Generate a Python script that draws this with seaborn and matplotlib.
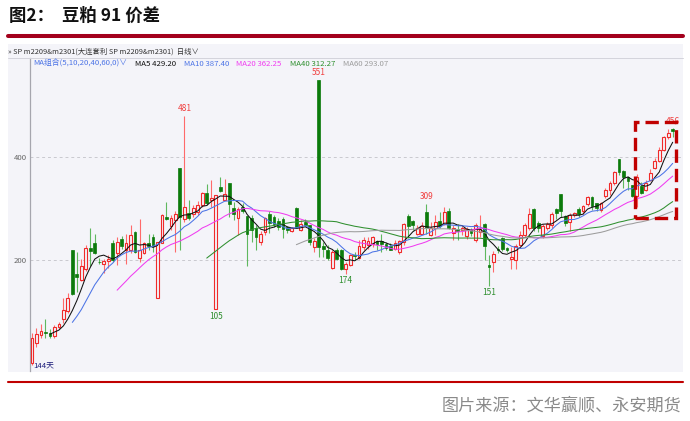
import numpy as np
import pandas as pd
import matplotlib
matplotlib.use("Agg")
import matplotlib.pyplot as plt
import seaborn as sns
from matplotlib.patches import Rectangle
from matplotlib.lines import Line2D

# Daily OHLC of the soymeal 9-1 spread (SP m2209&m2301), 144 sessions
opens = [0, 39, 55, 60, 58, 52, 71, 86, 102, 219,
         173, 162, 183, 224, 234, 197, 193, 199, 233, 214,
         241, 220, 220, 254, 204, 215, 234, 245, 126, 234,
         285, 267, 278, 380, 280, 291, 290, 294, 307, 331,
         317, 105, 343, 318, 351, 302, 282, 304, 286, 282,
         262, 236, 254, 290, 285, 276, 280, 264, 257, 302,
         259, 275, 268, 226, 551, 227, 219, 185, 220, 220,
         184, 191, 210, 205, 226, 230, 232, 238, 237, 231,
         227, 222, 216, 236, 286, 276, 252, 252, 293, 249,
         262, 277, 270, 295, 253, 260, 258, 248, 259, 240,
         255, 270, 190, 196, 222, 243, 223, 202, 201, 230,
         250, 262, 300, 272, 248, 262, 269, 300, 328, 286,
         275, 288, 300, 295, 309, 322, 311, 298, 324, 337,
         351, 396, 374, 362, 346, 324, 344, 337, 355, 379,
         392, 414, 439, 455]
highs = [58, 68, 76, 86, 66, 75, 81, 126, 136, 219,
         217, 202, 230, 262, 251, 204, 202, 210, 239, 246,
         247, 252, 269, 256, 280, 236, 251, 251, 236, 289,
         314, 288, 295, 380, 481, 318, 307, 316, 333, 349,
         355, 327, 362, 358, 351, 314, 304, 311, 286, 288,
         269, 256, 285, 295, 288, 282, 285, 266, 265, 304,
         278, 280, 269, 243, 551, 236, 230, 220, 223, 222,
         197, 212, 216, 240, 245, 246, 247, 240, 251, 236,
         234, 239, 240, 273, 290, 279, 269, 275, 309, 275,
         288, 294, 304, 301, 269, 270, 266, 264, 262, 273,
         287, 272, 210, 218, 228, 246, 226, 226, 231, 256,
         272, 301, 301, 277, 270, 274, 294, 302, 328, 288,
         291, 294, 304, 308, 325, 325, 312, 314, 340, 353,
         374, 396, 375, 363, 347, 368, 352, 356, 378, 398,
         420, 441, 454, 456]
lows = [-3, 31, 49, 50, 50, 50, 66, 78, 97, 133,
        139, 159, 180, 188, 212, 193, 175, 185, 197, 191,
        221, 193, 214, 215, 197, 212, 220, 217, 126, 233,
        278, 259, 217, 220, 275, 278, 285, 288, 304, 307,
        304, 105, 333, 317, 285, 278, 249, 291, 188, 236,
        220, 230, 249, 253, 265, 259, 243, 253, 254, 262,
        256, 267, 230, 217, 207, 207, 201, 183, 201, 181,
        174, 188, 200, 203, 220, 221, 225, 220, 217, 219,
        219, 220, 212, 230, 243, 259, 250, 251, 252, 247,
        249, 262, 268, 260, 239, 239, 250, 241, 248, 236,
        246, 200, 151, 178, 215, 218, 216, 184, 184, 227,
        245, 258, 256, 254, 244, 258, 263, 281, 285, 266,
        256, 284, 285, 290, 305, 298, 296, 294, 320, 327,
        346, 366, 340, 337, 322, 304, 328, 334, 353, 377,
        390, 412, 436, 440]
closes = [50, 57, 63, 59, 53, 71, 76, 104, 126, 135,
          167, 188, 223, 218, 215, 196, 198, 203, 201, 236,
          228, 234, 249, 217, 220, 233, 227, 228, 236, 288,
          280, 282, 289, 285, 304, 282, 301, 307, 330, 312,
          320, 327, 335, 329, 310, 290, 300, 295, 251, 259,
          246, 252, 282, 272, 270, 264, 260, 258, 262, 265,
          271, 269, 236, 238, 226, 221, 204, 217, 202, 183,
          192, 210, 208, 228, 240, 237, 245, 232, 231, 224,
          220, 234, 238, 271, 266, 268, 263, 266, 262, 262,
          275, 267, 294, 263, 262, 256, 262, 260, 253, 268,
          260, 227, 186, 213, 219, 221, 219, 207, 228, 250,
          268, 290, 263, 262, 267, 271, 290, 292, 295, 273,
          288, 291, 290, 306, 322, 306, 301, 311, 337, 350,
          372, 372, 362, 353, 324, 362, 330, 350, 370, 392,
          415, 440, 447, 452]

ma_windows = [5, 10, 20, 40, 60]
ma_colors = ["#111111", "#4c74e6", "#f03cf0", "#2f8f2f", "#9c9c9c"]
ma_legend = ["MA5 429.20", "MA10 387.40", "MA20 362.25", "MA40 312.27", "MA60 293.07"]

# extreme-value tags: (bar index, value)
peak_tags = [(34, 481), (64, 551), (88, 309), (143, 456)]
trough_tags = [(41, 105), (70, 174), (102, 151)]

yticks = [200, 400]

W, H = 690, 421
BG = "#f4f4f9"
UP = "#f02a2a"
UP_WICK = "#ff6a6a"
DOWN = "#0b7a0b"
DOWN_WICK = "#5fb85f"

sns.set_theme(style="white")
plt.rcParams["font.family"] = ["Noto Sans CJK SC", "DejaVu Sans"]
plt.rcParams["axes.unicode_minus"] = False


def fx(x):
    return x / W


def fy(y):
    return 1 - y / H


fig = plt.figure(figsize=(W / 100, H / 100), dpi=100)
fig.patch.set_facecolor("white")

# chart panel background (behind the axes)
fig.patches.append(Rectangle((fx(8), fy(372)), fx(683) - fx(8), fy(44) - fy(372),
                             transform=fig.transFigure, facecolor=BG,
                             edgecolor="none", zorder=-5))

# title and rules
fig.text(fx(9), fy(16), "图2：  豆粕 91 价差", fontsize=12.5, fontweight="bold",
         color="#111111", va="center", ha="left")
fig.add_artist(Line2D([fx(8), fx(683)], [fy(36), fy(36)], transform=fig.transFigure,
                      color="#a3001c", lw=2.9))
fig.add_artist(Line2D([fx(8), fx(683)], [fy(381.5), fy(381.5)], transform=fig.transFigure,
                      color="#c00000", lw=1.5))
fig.add_artist(Line2D([fx(8), fx(683)], [fy(58), fy(58)], transform=fig.transFigure,
                      color="#d4d4dc", lw=0.7))

fig.text(fx(8), fy(52), "» SP m2209&m2301(大连套利 SP m2209&m2301)  日线∨",
         fontsize=5.3, color="#333333", va="center", ha="left")

fig.text(fx(33), fy(63.5), "MA组合(5,10,20,40,60,0)∨", fontsize=5.6,
         color="#4c74e6", va="center", ha="left")
for xp, txt, col in zip([135, 184, 236, 290, 343], ma_legend, ma_colors):
    fig.text(fx(xp), fy(63.5), txt, fontsize=5.6, color=col, va="center", ha="left")

fig.text(fx(681), fy(405), "图片来源：文华赢顺、永安期货", fontsize=12.3,
         color="#8a8a8a", va="center", ha="right")

# price axes
ax = fig.add_axes([fx(30), fy(371), fx(683) - fx(30), fy(58) - fy(371)])
ax.set_facecolor("none")
ax.set_xlim(-0.45, 145.3)
ax.set_ylim(-15.0, 592.8)

df = pd.DataFrame({"bar": np.arange(len(closes)), "open": opens, "high": highs,
                   "low": lows, "close": closes})

for y in yticks:
    ax.axhline(y, color="#c9c9cf", lw=0.7, ls=(0, (3, 3)), zorder=1)

up = df[df["close"] >= df["open"]]
dn = df[df["close"] < df["open"]]

ax.vlines(up["bar"], up["low"], up["high"], color=UP_WICK, lw=0.8, zorder=2)
ax.vlines(dn["bar"], dn["low"], dn["high"], color=DOWN_WICK, lw=0.8, zorder=2)
ax.bar(up["bar"], (up["close"] - up["open"]).clip(lower=1.2), bottom=up["open"],
       width=0.62, facecolor=BG, edgecolor=UP, linewidth=0.8, zorder=3)
ax.bar(dn["bar"], (dn["close"] - dn["open"]).clip(upper=-1.2), bottom=dn["open"],
       width=0.62, facecolor=DOWN, edgecolor=DOWN, linewidth=0.5, zorder=3)

for n, col in zip(ma_windows, ma_colors):
    ma = df["close"].rolling(n).mean()
    sns.lineplot(x=df["bar"], y=ma, color=col, lw=0.75, ax=ax, zorder=4)

for i, v in peak_tags:
    ax.annotate(str(v), (i, v), xytext=(0, 2), textcoords="offset points",
                ha="center", va="bottom", fontsize=6, color="#f04040", zorder=6)
for i, v in trough_tags:
    ax.annotate(str(v), (i, v), xytext=(0, -2), textcoords="offset points",
                ha="center", va="top", fontsize=6, color="#2f8f2f", zorder=6)

# highlight box over the latest rally
ax.add_patch(Rectangle((134.6, 283), 9.1, 186, fill=False, edgecolor="#c00000",
                       lw=2.4, ls=(0, (4, 1.8)), zorder=7))

ax.text(0.2, -12, "144天", fontsize=5.6, color="#1b1b7a", ha="left", va="bottom")

ax.set_yticks(yticks)
ax.set_yticklabels([str(t) for t in yticks], fontsize=5.6, color="#666666")
ax.set_xticks([])
ax.tick_params(axis="y", length=0, pad=2)
ax.set_xlabel("")
ax.set_ylabel("")
for s in ["top", "right", "bottom"]:
    ax.spines[s].set_visible(False)
ax.spines["left"].set_color("#a6a6ae")
ax.spines["left"].set_linewidth(0.9)

fig.savefig("out.png", dpi=100)
